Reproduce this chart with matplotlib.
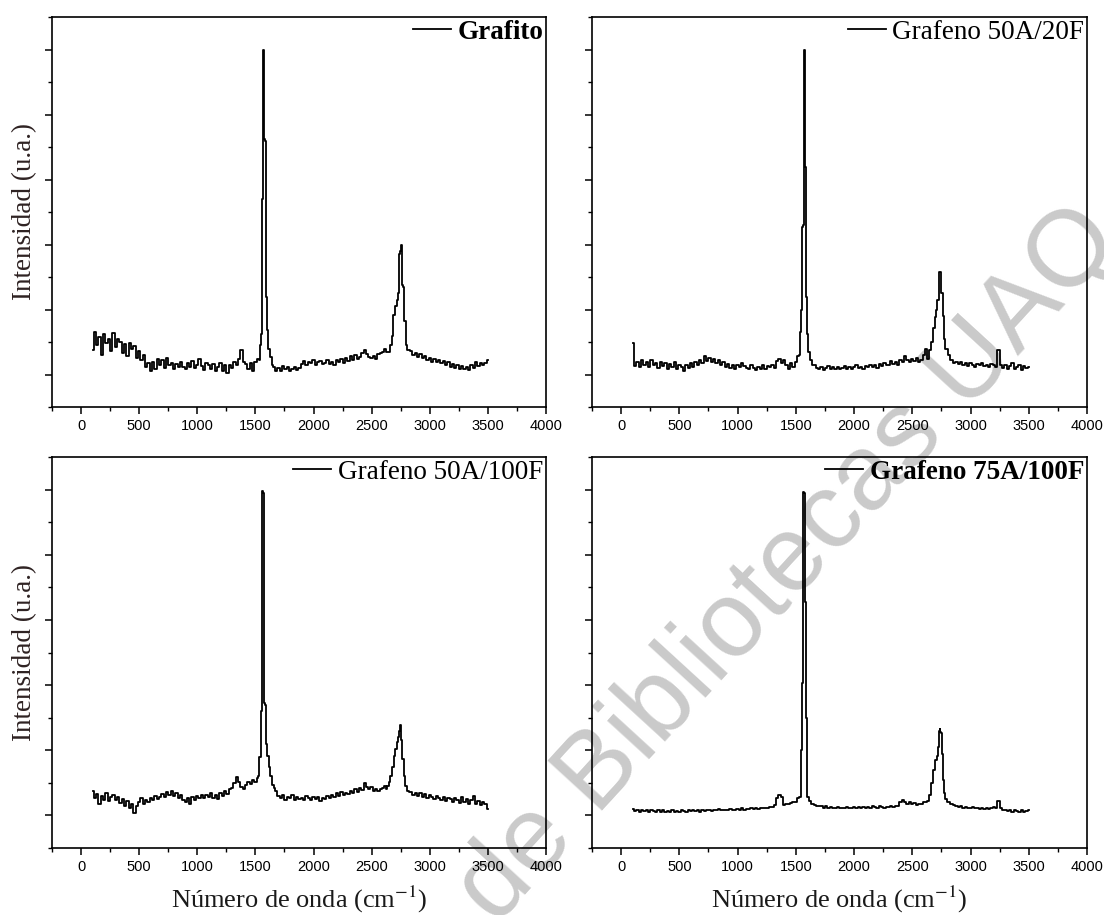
import numpy as np
import matplotlib
matplotlib.use("Agg")
import matplotlib.pyplot as plt
from matplotlib.ticker import MultipleLocator

plt.rcParams['mathtext.fontset'] = 'stix'

# ---------------- data ----------------
# baseline sampling positions, cm^-1
grid_x = np.arange(100, 3501, 20)

# Grafito
grafito_base = [
    0.38, 0.66, 0.45, 0.58, 0.30, 0.62, 0.48, 0.55, 0.36, 0.64,
    0.42, 0.55, 0.50, 0.33, 0.47, 0.28, 0.49, 0.40, 0.44, 0.25,
    0.36, 0.22, 0.30, 0.12, 0.18, 0.05, 0.20, 0.08, 0.24, 0.15,
    0.22, 0.10, 0.26, 0.14, 0.18, 0.09, 0.16, 0.12, 0.20, 0.11,
    0.08, 0.17, 0.12, 0.21, 0.10, 0.15, 0.24, 0.13, 0.07, 0.18,
    0.14, 0.09, 0.16, 0.05, 0.12, 0.18, 0.06, 0.15, 0.03, 0.14,
    0.10, 0.19, 0.15, 0.24, 0.38, 0.20, 0.16, 0.09, 0.18, 0.05,
    0.20, 0.24, 0.30, 0.30, 0.30, 0.30, 0.30, 0.22, 0.12, 0.06,
    0.10, 0.06, 0.13, 0.08, 0.11, 0.05, 0.09, 0.12, 0.07, 0.10,
    0.16, 0.21, 0.14, 0.20, 0.17, 0.22, 0.15, 0.19, 0.21, 0.16,
    0.18, 0.22, 0.16, 0.20, 0.15, 0.23, 0.19, 0.24, 0.17, 0.25,
    0.21, 0.28, 0.22, 0.30, 0.24, 0.27, 0.33, 0.38, 0.32, 0.27,
    0.25, 0.29, 0.24, 0.31, 0.33, 0.35, 0.40, 0.50, 0.60, 0.70,
    1.00, 1.20, 1.90, 1.20, 0.50, 0.35, 0.33, 0.36, 0.30, 0.33,
    0.27, 0.31, 0.25, 0.29, 0.22, 0.26, 0.20, 0.24, 0.19, 0.22,
    0.17, 0.21, 0.15, 0.19, 0.12, 0.16, 0.10, 0.14, 0.09, 0.13,
    0.08, 0.12, 0.07, 0.15, 0.10, 0.20, 0.13, 0.18, 0.14, 0.17,
    0.23,
]
grafito_g_win = (1530, 1650)
grafito_g_x = [1536, 1546, 1551, 1557, 1561, 1567, 1572, 1578, 1584, 1592, 1603, 1615, 1634, 1648]
grafito_g_y = [0.22, 0.45, 0.62, 1.00, 2.70, 2.72, 5.00, 3.63, 3.60, 1.20, 0.69, 0.40, 0.27, 0.15]
grafito_2d_win = (2620, 2830)
grafito_2d_x = [2625, 2647, 2665, 2678, 2693, 2710, 2724, 2735, 2742, 2748, 2754, 2760, 2768, 2776, 2786, 2801, 2815]
grafito_2d_y = [0.35, 0.34, 0.45, 0.60, 0.92, 1.05, 1.15, 1.25, 1.85, 1.90, 2.00, 1.40, 1.38, 1.35, 0.82, 0.45, 0.38]

# Grafeno 50A/20F
g5020_base = [
    0.49, 0.13, 0.20, 0.12, 0.22, 0.14, 0.19, 0.11, 0.23, 0.15,
    0.18, 0.10, 0.20, 0.13, 0.17, 0.09, 0.16, 0.12, 0.19, 0.08,
    0.15, 0.11, 0.06, 0.14, 0.10, 0.17, 0.12, 0.19, 0.15, 0.22,
    0.18, 0.29, 0.21, 0.26, 0.20, 0.24, 0.17, 0.22, 0.14, 0.19,
    0.12, 0.16, 0.10, 0.15, 0.09, 0.14, 0.11, 0.17, 0.13, 0.10,
    0.08, 0.14, 0.10, 0.07, 0.12, 0.09, 0.15, 0.08, 0.13, 0.11,
    0.14, 0.10, 0.21, 0.24, 0.18, 0.22, 0.15, 0.09, 0.17, 0.12,
    0.19, 0.28, 0.30, 0.30, 0.30, 0.30, 0.30, 0.30, 0.14, 0.10,
    0.09, 0.12, 0.07, 0.10, 0.13, 0.08, 0.11, 0.09, 0.12, 0.08,
    0.10, 0.13, 0.09, 0.12, 0.08, 0.11, 0.14, 0.10, 0.12, 0.09,
    0.13, 0.11, 0.15, 0.12, 0.14, 0.10, 0.16, 0.13, 0.17, 0.14,
    0.15, 0.21, 0.16, 0.19, 0.14, 0.22, 0.20, 0.28, 0.23, 0.19,
    0.24, 0.21, 0.25, 0.20, 0.23, 0.30, 0.40, 0.60, 0.90, 1.00,
    1.20, 1.50, 1.50, 0.90, 0.50, 0.40, 0.30, 0.22, 0.18, 0.20,
    0.16, 0.19, 0.14, 0.18, 0.13, 0.17, 0.15, 0.12, 0.16, 0.14,
    0.17, 0.13, 0.15, 0.11, 0.16, 0.14, 0.12, 0.38, 0.15, 0.10,
    0.14, 0.09, 0.13, 0.17, 0.08, 0.12, 0.15, 0.07, 0.13, 0.10,
    0.12,
]
g5020_g_win = (1530, 1650)
g5020_g_x = [1535, 1544, 1552, 1559, 1565, 1571, 1576, 1581, 1587, 1592, 1600, 1612, 1630, 1645]
g5020_g_y = [0.30, 0.66, 1.00, 2.27, 2.30, 4.00, 5.00, 3.20, 3.19, 1.20, 0.62, 0.35, 0.22, 0.15]
g5020_2d_win = (2630, 2830)
g5020_2d_x = [2635, 2652, 2668, 2686, 2700, 2709, 2720, 2730, 2736, 2742, 2750, 2758, 2765, 2772, 2790, 2815]
g5020_2d_y = [0.24, 0.38, 0.50, 0.72, 0.88, 1.00, 1.15, 1.45, 1.58, 1.57, 1.26, 1.25, 0.90, 0.54, 0.40, 0.30]

# Grafeno 50A/100F
g50100_base = [
    0.38, 0.26, 0.33, 0.18, 0.30, 0.24, 0.35, 0.22, 0.29, 0.32,
    0.23, 0.28, 0.19, 0.25, 0.15, 0.22, 0.12, 0.18, 0.04, 0.14,
    0.20, 0.26, 0.17, 0.24, 0.21, 0.27, 0.23, 0.30, 0.25, 0.29,
    0.33, 0.28, 0.36, 0.31, 0.38, 0.30, 0.34, 0.27, 0.31, 0.24,
    0.20, 0.26, 0.18, 0.29, 0.24, 0.30, 0.26, 0.32, 0.27, 0.31,
    0.28, 0.34, 0.27, 0.31, 0.25, 0.35, 0.30, 0.38, 0.33, 0.40,
    0.42, 0.50, 0.59, 0.52, 0.43, 0.41, 0.46, 0.52, 0.48, 0.55,
    0.52, 0.58, 0.60, 0.60, 0.60, 0.60, 0.60, 0.60, 0.42, 0.38,
    0.30, 0.26, 0.32, 0.24, 0.29, 0.27, 0.31, 0.23, 0.28, 0.25,
    0.27, 0.23, 0.30, 0.26, 0.24, 0.29, 0.25, 0.28, 0.22, 0.27,
    0.25, 0.30, 0.27, 0.32, 0.28, 0.34, 0.30, 0.36, 0.31, 0.35,
    0.33, 0.38, 0.34, 0.40, 0.36, 0.42, 0.39, 0.50, 0.44, 0.40,
    0.43, 0.38, 0.41, 0.37, 0.40, 0.42, 0.45, 0.50, 0.60, 0.80,
    1.00, 1.20, 1.30, 0.90, 0.50, 0.40, 0.38, 0.36, 0.32, 0.35,
    0.30, 0.34, 0.28, 0.33, 0.26, 0.31, 0.29, 0.25, 0.30, 0.27,
    0.24, 0.29, 0.22, 0.27, 0.25, 0.20, 0.26, 0.23, 0.19, 0.28,
    0.21, 0.25, 0.17, 0.23, 0.30, 0.18, 0.22, 0.16, 0.20, 0.18,
    0.10,
]
g50100_g_win = (1525, 1670)
g50100_g_x = [1530, 1540, 1548, 1554, 1558, 1563, 1570, 1574, 1579, 1586, 1596, 1608, 1620, 1632, 1650, 1665]
g50100_g_y = [0.60, 0.90, 1.39, 1.60, 3.00, 4.98, 4.95, 2.00, 1.72, 1.70, 1.10, 0.91, 0.75, 0.60, 0.46, 0.42]
g50100_2d_win = (2625, 2830)
g50100_2d_x = [2630, 2640, 2655, 2668, 2682, 2696, 2710, 2722, 2732, 2740, 2746, 2752, 2760, 2769, 2780, 2792, 2810]
g50100_2d_y = [0.40, 0.45, 0.52, 0.60, 0.75, 0.91, 1.02, 1.12, 1.20, 1.30, 1.39, 1.20, 1.16, 0.86, 0.60, 0.45, 0.38]

# Grafeno 75A/100F
g75100_base = [
    0.10, 0.07, 0.09, 0.06, 0.08, 0.07, 0.09, 0.05, 0.08, 0.07,
    0.06, 0.09, 0.05, 0.08, 0.06, 0.07, 0.05, 0.08, 0.06, 0.07,
    0.06, 0.08, 0.07, 0.06, 0.08, 0.07, 0.09, 0.07, 0.08, 0.06,
    0.08, 0.07, 0.09, 0.08, 0.07, 0.09, 0.08, 0.10, 0.08, 0.09,
    0.08, 0.09, 0.10, 0.08, 0.09, 0.10, 0.09, 0.11, 0.09, 0.10,
    0.10, 0.11, 0.10, 0.11, 0.10, 0.11, 0.12, 0.11, 0.12, 0.13,
    0.13, 0.16, 0.26, 0.31, 0.28, 0.16, 0.17, 0.18, 0.19, 0.20,
    0.21, 0.26, 0.30, 0.30, 0.30, 0.30, 0.30, 0.30, 0.16, 0.15,
    0.14, 0.15, 0.12, 0.14, 0.11, 0.13, 0.12, 0.11, 0.13, 0.12,
    0.11, 0.12, 0.13, 0.11, 0.12, 0.13, 0.12, 0.13, 0.12, 0.13,
    0.12, 0.13, 0.12, 0.14, 0.13, 0.12, 0.14, 0.13, 0.12, 0.13,
    0.13, 0.14, 0.13, 0.15, 0.14, 0.20, 0.23, 0.21, 0.18, 0.20,
    0.17, 0.19, 0.16, 0.18, 0.17, 0.20, 0.25, 0.35, 0.50, 0.70,
    0.90, 1.10, 1.30, 0.90, 0.40, 0.25, 0.20, 0.19, 0.16, 0.14,
    0.13, 0.14, 0.12, 0.13, 0.11, 0.12, 0.13, 0.11, 0.12, 0.10,
    0.11, 0.10, 0.12, 0.10, 0.11, 0.13, 0.12, 0.22, 0.11, 0.09,
    0.08, 0.07, 0.09, 0.06, 0.08, 0.07, 0.05, 0.08, 0.06, 0.07,
    0.09,
]
g75100_g_win = (1530, 1670)
g75100_g_x = [1538, 1545, 1552, 1557, 1562, 1567, 1572, 1578, 1585, 1591, 1596, 1604, 1620, 1647, 1665]
g75100_g_y = [0.28, 0.54, 1.00, 2.03, 2.05, 4.97, 4.95, 3.30, 3.28, 1.50, 0.70, 0.28, 0.22, 0.18, 0.16]
g75100_2d_win = (2615, 2850)
g75100_2d_x = [2620, 2630, 2650, 2672, 2690, 2705, 2715, 2725, 2733, 2738, 2744, 2749, 2757, 2766, 2776, 2786, 2810, 2843]
g75100_2d_y = [0.20, 0.22, 0.32, 0.50, 0.70, 0.85, 0.91, 1.05, 1.30, 1.33, 1.28, 1.27, 0.95, 0.54, 0.35, 0.25, 0.20, 0.18]

labels = ["Grafito", "Grafeno 50A/20F", "Grafeno 50A/100F", "Grafeno 75A/100F"]
label_weights = ["bold", "normal", "normal", "bold"]
x_ticks = [0, 500, 1000, 1500, 2000, 2500, 3000, 3500, 4000]

spectra = [
    (grafito_base, [(grafito_g_win, grafito_g_x, grafito_g_y), (grafito_2d_win, grafito_2d_x, grafito_2d_y)]),
    (g5020_base, [(g5020_g_win, g5020_g_x, g5020_g_y), (g5020_2d_win, g5020_2d_x, g5020_2d_y)]),
    (g50100_base, [(g50100_g_win, g50100_g_x, g50100_g_y), (g50100_2d_win, g50100_2d_x, g50100_2d_y)]),
    (g75100_base, [(g75100_g_win, g75100_g_x, g75100_g_y), (g75100_2d_win, g75100_2d_x, g75100_2d_y)]),
]


def build(base, peaks):
    x = grid_x.astype(float)
    y = np.asarray(base, dtype=float)
    keep = np.ones(x.size, dtype=bool)
    xs, ys = [], []
    for (lo, hi), px, py in peaks:
        keep &= ~((x > lo) & (x < hi))
        xs.append(np.asarray(px, float))
        ys.append(np.asarray(py, float))
    X = np.concatenate([x[keep]] + xs)
    Y = np.concatenate([y[keep]] + ys)
    order = np.argsort(X)
    return X[order], Y[order]


# ---------------- figure ----------------
W, H = 1104, 915
fig = plt.figure(figsize=(W / 100, H / 100), dpi=100)
fig.patch.set_facecolor("white")

# axes boxes in pixels (left, top, right, bottom)
boxes = [(52, 17, 546, 407), (592, 17, 1087, 407),
         (52, 457, 546, 848), (592, 457, 1087, 848)]

serif = "Liberation Serif"
sans = "Liberation Sans"

for i, (box, (base, peaks)) in enumerate(zip(boxes, spectra)):
    l, t, r, b = box
    ax = fig.add_axes([l / W, 1 - b / H, (r - l) / W, (b - t) / H])
    ax.set_facecolor("none")
    X, Y = build(base, peaks)
    line, = ax.plot(X, Y, color="black", lw=1.3, drawstyle="steps-mid")
    ax.set_xlim(-250, 4000)
    ax.set_ylim(-0.5, 5.5)
    ax.set_xticks(x_ticks)
    ax.xaxis.set_minor_locator(MultipleLocator(250))
    ax.yaxis.set_major_locator(MultipleLocator(1))
    ax.yaxis.set_minor_locator(MultipleLocator(0.5))
    ax.tick_params(which="major", direction="out", length=5, width=1.1,
                   top=False, right=False, labelleft=False, pad=3.5)
    ax.tick_params(which="minor", direction="out", length=2.8, width=1.0,
                   top=False, right=False)
    for lab in ax.get_xticklabels():
        lab.set_fontfamily(sans)
        lab.set_fontsize(10.5)
    for sp in ax.spines.values():
        sp.set_linewidth(1.2)
    handle, = ax.plot([], [], color="black", lw=1.3)
    ax.legend([handle], [labels[i]], loc="upper right", frameon=False,
              prop={"family": serif, "size": 19.5, "weight": label_weights[i]},
              handlelength=1.4, handletextpad=0.25, borderaxespad=0.0,
              borderpad=0.1)
    if i in (0, 2):
        ax.text((25 - l) / (r - l), 0.5, "Intensidad (u.a.)", rotation=90,
                ha="center", va="center", transform=ax.transAxes,
                fontfamily=serif, fontsize=19.5, color="#2e2222")
    if i in (2, 3):
        ax.text(0.5, (b - 899) / (b - t), "Número de onda (cm$^{-1}$)",
                ha="center", va="center", transform=ax.transAxes,
                fontfamily=serif, fontsize=19, color="#1a1a1a")

# watermark
fig.text(496 / W, 1 - 926 / H, "de Bibliotecas UAQ", rotation=47.5,
         rotation_mode="anchor", ha="left", va="baseline",
         fontsize=77, color="#cacaca", fontfamily=sans, zorder=-1)

fig.savefig("out.png", dpi=100, facecolor="white")
